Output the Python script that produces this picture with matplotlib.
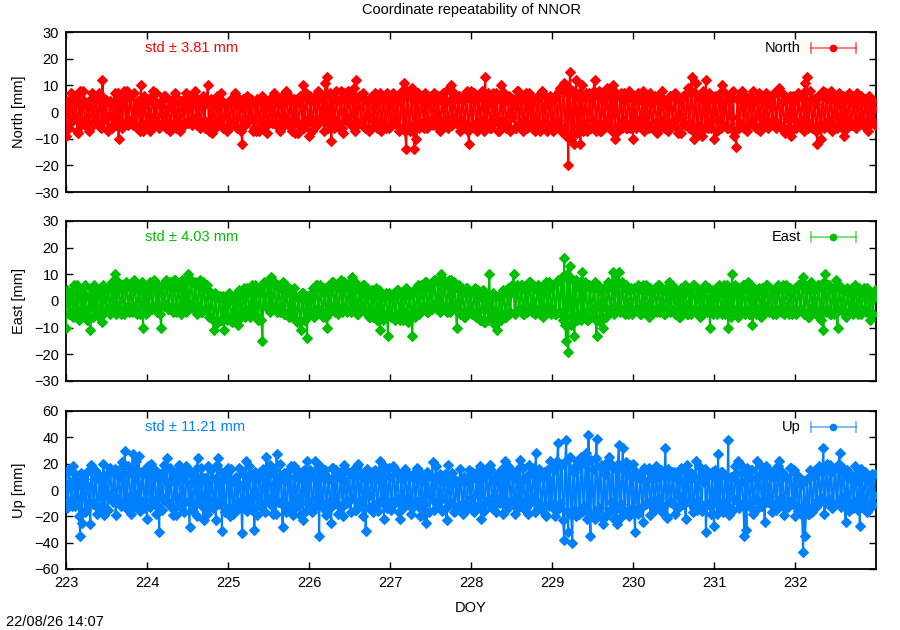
import numpy as np
import matplotlib
matplotlib.use("Agg")
import matplotlib.pyplot as plt

plt.rcParams['font.family'] = ['Liberation Sans', 'DejaVu Sans']

# ---------------- data (mm) ----------------
# "a" samples at DOY 223 + k/40, "b" samples half a step later (k + 0.5)/40
doy_start = 223.0
samples_per_day = 40

north = [
    -9, 3, -4, 5, -2, 6, -8, 8, -3, 4, -5, 2, -6, 7, -1, 5, -4, 6, 12, -3, 4, -6, 3, -2, 7, -5, -10, 2, -4, 5, 8, -3, 6, -5, 1, -6, 4, 10, -7, 3,
    -4, 5, -2, 8, -5, 3, -6, 4, -1, 6, -4, 2, -5, 5, 7, -3, 4, -6, 1, 5, -4, 3, -5, 6, -2, 4, -6, 2, -3, 5, 10, -4, -8, 3, -5, 6, -2, 4, -6, 3,
    3, -5, 4, -3, 6, -6, 2, -12, 4, -4, 5, -2, 3, -6, -7, 4, -3, 6, -5, 2, -4, 5, -1, 6, -5, 3, -6, 4, -2, 7, -4, 5, -3, -8, 4, -5, 6, 10, -3, 5,
    -9, 4, -3, 6, -5, 7, -2, 5, 11, 13, -4, -11, 6, -3, 4, -6, 8, -8, 5, -2, 7, -5, 9, 12, -4, 6, -3, 5, -6, 4, -2, 6, -5, 3, -4, 7, -3, 5, -6, 4,
    3, -5, 6, -2, 4, -6, 8, 11, -14, 6, -7, 9, -14, -10, 7, -4, 5, -6, 3, -3, 6, -5, 4, -2, 5, -4, 7, -3, 4, -5, 10, -2, 5, -4, 6, -3, 4, -6, 8, -12,
    8, -5, 4, -7, 6, -3, 5, 13, -4, 3, -6, 7, -2, 5, -7, 10, -3, 4, -5, 6, -2, 3, -6, 8, -4, 5, -3, 7, -5, 2, -6, 4, -3, 6, -7, 8, -4, 3, -5, 6,
    4, -5, 6, -3, 9, -6, 11, -9, -20, 15, -8, -12, 12, -5, -12, 10, -4, 7, -6, 5, -3, 12, -5, 8, -7, 4, -4, 9, -2, 5, 10, -10, 6, -5, 7, -3, 4, -6, 8, -4,
    -10, 4, -3, 6, -5, 8, -2, 5, -6, 3, -4, 6, -8, 4, -3, 5, -6, 2, -4, 6, -3, 5, -8, 4, -2, 6, -5, 9, -4, 13, -10, 11, -5, 6, -9, 4, 12, -6, 5, -3,
    -10, 5, -3, 7, 10, -5, 4, -6, 6, -2, -9, -13, 5, -4, 8, -6, 3, -5, 6, -3, 4, -6, 7, -2, 5, -4, 3, -5, 6, -3, 7, -4, 9, -6, 4, -8, 5, -3, -9, 6,
    4, -5, 6, -3, 7, 11, 13, -4, 5, -6, 3, -12, 6, -10, 8, -4, 5, -3, 8, -5, 4, -2, 6, -6, -9, 5, -3, 4, -5, 3, -6, 5, -2, 4, -4, 3, -7, 2, -3, 1,
]
north_b = [
    4, -6, 7, -3, 5, -7, 3, -5, 8, -5, 3, -7, 5, -4, 6, -4, 7, -6, -3, 5, -7, 4, -6, 3, -5, 7, 5, -6, 8, -4, -5, 6, -3, 7, -5, 4, -7, -4, 6, -5,
    4, -7, 6, -3, 7, -5, 3, -4, 6, -6, 5, -7, 3, -5, -6, 5, -7, 4, -5, 7, -3, 6, -4, 8, -5, 3, -4, 6, -6, 4, -7, 5, 4, -6, 6, -4, 7, -6, 3, -7,
    -6, 5, -4, 7, -6, 3, -7, 5, -5, 6, -3, 5, -7, 3, 5, -7, 4, -6, 3, -8, 5, -4, 7, -5, 3, -7, 6, -4, 8, -5, 4, -7, 5, 3, -8, 6, -4, -6, 7, -4,
    6, -7, 4, -5, 8, -3, 5, -7, -4, -6, 7, 5, -6, 8, -4, 5, -6, 7, -3, 8, -5, 4, -7, -5, 6, -4, 7, -6, 4, -7, 5, -3, 7, -6, 5, -7, 4, -5, 7, -6,
    -5, 7, -4, 6, -7, 5, -6, -7, 8, -5, 6, -7, 4, 7, -6, 5, -4, 7, -6, 5, -4, 7, -5, 6, -7, 4, -5, 8, -6, 4, -5, 7, -4, 6, -7, 5, -4, 7, -7, 5,
    -5, 7, -4, 6, -6, 8, -7, -5, 7, -6, 5, -4, 7, -7, 6, -5, 7, -6, 4, -7, 5, -6, 8, -5, 6, -7, 4, -6, 7, -5, 5, -7, 4, -6, 7, -5, 6, -7, 4, -5,
    -7, 6, -5, 8, -7, 9, -8, 7, 9, -10, 8, 6, -8, 7, 5, -7, 6, -7, 7, -6, 8, -7, 6, -7, 7, -6, 8, -5, 7, -7, 6, 7, -7, 6, -6, 7, -6, 7, -6, 5,
    6, -6, 7, -5, 4, -7, 6, -5, 7, -6, 5, -7, 6, -5, 8, -6, 4, -7, 6, -5, 7, -6, 5, -8, 6, -5, 7, -6, 8, -7, 7, -7, 5, -7, 8, -6, -5, 7, -6, 5,
    6, -7, 5, -6, -5, 7, -6, 5, -6, 8, -7, 5, -6, 7, -5, 6, -7, 5, -4, 8, -6, 5, -7, 6, -5, 7, -6, 5, -4, 7, -6, 8, -5, 7, -6, 5, -7, 6, 5, -6,
    -6, 7, -5, 6, -7, -5, -6, 8, -6, 5, -7, 6, -5, 7, -6, 7, -5, 6, -7, 5, -6, 7, -4, 6, 5, -6, 7, -5, 6, -4, 7, -4, 6, -5, 5, -4, 6, -4, 4, -5,
]

east = [
    -10, 2, -5, 3, 6, -4, 1, -6, 4, -3, 2, -7, -11, 3, 6, -5, 2, -6, -8, 4, -3, 5, -4, 6, 10, -2, 5, -5, 4, -3, 6, -4, 5, -2, 7, -5, 4, -3, -10, 5,
    6, -3, 5, -2, 7, -4, 3, -10, 6, -1, 7, -3, 5, -4, 8, -2, 6, -5, 4, 8, 10, -1, 7, -3, 6, -2, 8, -4, 5, -3, 4, -6, 2, -11, 1, -8, 2, -7, -11, 0,
    -6, 1, -8, 2, -5, -9, 3, -4, 5, -3, 4, -6, 6, -2, 5, -7, 3, -15, 7, -2, 8, 9, -3, 6, -4, 5, -2, 7, -5, 3, -6, 4, -3, 2, -8, 1, -11, 3, -7, -14,
    2, -5, 5, -3, 6, -4, 4, -6, 5, -10, 6, -2, 7, -4, 5, -3, 8, -2, 6, -4, 7, 9, -3, 6, -5, 4, -2, 6, -4, 3, -6, 4, -3, 5, -7, -11, 2, -5, 3, -13,
    1, -6, 3, -5, 4, -7, 2, -4, 5, -8, 3, -13, 4, -5, 6, -3, 5, -2, 7, -4, 6, -1, 8, -3, 7, 10, -2, 6, -4, 8, 8, -3, 5, -10, 6, -4, 3, -6, 5, -3,
    3, -5, 5, -4, 2, -7, 4, -8, 1, 10, -6, 3, -9, -11, 2, -7, 4, -6, 3, -5, 6, 10, -4, 5, -3, 6, -5, 4, -2, 7, -4, 5, -3, 6, -5, 3, -4, 7, -2, 5,
    -3, 6, -5, 8, -4, 9, 16, -15, -19, 13, -6, -13, 8, -5, 7, 11, -4, 6, -7, 5, -3, 7, -13, 4, -6, -10, 5, -3, 6, -4, 11, -2, 7, 11, -3, 6, -5, 4, -2, 5,
    -4, 5, -3, 4, -5, 6, -2, 4, -6, 3, -3, 5, -4, 6, -2, 4, -5, 3, 7, -3, 5, -4, 2, -6, 4, -2, 5, -5, 3, -3, 6, -4, 2, -6, 4, -3, 5, -2, -10, 4,
    -3, 5, -4, 3, -5, 6, -2, -10, 4, 10, -3, 5, -6, 2, -4, 6, -3, 7, -5, -9, 4, -3, 5, -6, 3, -2, 6, -4, 2, -5, 4, -3, 5, -4, 6, -2, 4, -5, 3, -3,
    5, -4, 6, -3, 9, -5, 4, -6, 7, -2, 5, -4, 6, -7, -11, 10, -3, 6, -5, 4, 8, -10, 5, -3, 4, -6, 3, -4, 5, -2, 4, -5, 3, -3, 5, -4, 2, -7, 3, 1,
]
east_b = [
    4, -5, 3, -6, -3, 6, -7, 3, -5, 6, -7, 2, 5, -6, -3, 4, -6, 2, 6, -4, 5, -5, 7, -2, -5, 7, -3, 6, -5, 7, -2, 6, -4, 8, -3, 4, -5, 7, 3, -5,
    -2, 7, -3, 8, -2, 5, -5, 6, -2, 8, -3, 7, -2, 8, -4, 5, -3, 8, -1, -4, -2, 8, -2, 7, -5, 6, -4, 7, -3, 6, -6, 2, -7, 3, -8, 1, -7, 2, 0, -7,
    3, -7, 0, -8, 1, 4, -6, 2, -6, 5, -4, 3, -5, 6, -6, 3, -7, 6, -2, 7, -4, -2, 7, -3, 6, -4, 5, -5, 6, -4, 3, -6, 5, -7, 1, -8, 3, -7, 0, 2,
    -5, 3, -6, 6, -3, 6, -4, 3, -6, 4, -4, 7, -2, 6, -5, 5, -4, 7, -3, 5, -4, -2, 7, -5, 4, -3, 6, -4, 5, -6, 2, -6, 3, -7, 4, 1, -7, 2, -5, 3,
    -6, 2, -7, 4, -4, 3, -7, 3, -6, 2, -5, 3, -6, 3, -5, 6, -2, 7, -4, 5, -3, 8, -2, 7, -4, -3, 8, -2, 7, -4, -1, 7, -3, 5, -5, 4, -6, 5, -4, 3,
    -5, 3, -6, 4, -7, 1, -8, 3, -7, -4, 1, -8, 2, -7, 2, -5, 3, -6, 5, -4, 3, -5, 6, -3, 6, -5, 4, -4, 7, -2, 6, -5, 4, -3, 5, -6, 6, -2, 7, -5,
    6, -5, 7, -4, 8, -7, -9, 10, 9, -9, 8, 7, -7, 5, -7, -4, 7, -7, 6, -6, 5, -7, 6, -8, 4, 5, -6, 7, -4, 5, -5, 8, -3, -4, 7, -4, 6, -5, 4, -5,
    5, -3, 6, -5, 4, -4, 6, -4, 5, -5, 4, -3, 6, -4, 4, -5, 5, -3, -4, 6, -5, 3, -6, 5, -3, 6, -5, 3, -5, 6, -3, 5, -4, 3, -5, 6, -4, 5, 2, -5,
    3, -5, 6, -3, 4, -5, 6, 3, -6, -4, 6, -3, 5, -4, 6, -5, 4, -5, 6, 2, -5, 4, -3, 5, -5, 6, -3, 5, -4, 3, -5, 6, -3, 4, -5, 6, -3, 5, -5, 4,
    -5, 6, -3, 7, -5, 4, -6, 6, -3, 4, -5, 6, -4, 5, 7, -4, 6, -5, 4, -5, -4, 6, -3, 4, -5, 5, -4, 3, -5, 6, -3, 5, -5, 4, -3, 5, -4, 3, -5, 4,
]

up = [
    13, -8, 6, -12, 13, -5, 4, -35, -25, 8, -15, 3, -26, 15, -10, 9, -14, 11, -6, -19, 12, -4, 14, -9, 16, -7, 10, -12, 18, 30, -5, 13, -18, 27, -3, 15, 26, -8, 12, -14,
    -22, 10, 20, -8, 14, -12, -32, 9, -6, 15, 24, -10, 7, -19, 12, -5, 19, -14, 8, -9, 13, -28, 6, -11, 16, 24, -4, 10, -23, 5, 18, -13, 9, -7, -23, 24, -10, -31, 8, -15,
    17, -20, 6, -14, 10, -9, 4, -33, -12, 22, -6, 12, -15, -30, 8, -5, 14, -11, 9, 25, -7, 13, -18, 5, 27, -9, 11, -28, 7, -12, 15, 18, -19, 10, -6, 14, -10, -23, 9, 22,
    -8, 12, -13, 22, -6, -35, 10, -14, 15, -9, 8, -25, 17, -5, 11, -12, 14, -20, 7, -10, 13, -6, 16, -15, 20, -8, 10, -13, -31, 9, -4, 14, -11, 8, -16, 22, -7, -22, 12, -9,
    10, -12, 17, -7, 13, -22, 8, -10, 14, -5, 11, -14, 9, -8, 15, -20, 6, -11, -25, 12, -4, 21, -9, 10, -13, 7, -6, 12, -23, 5, -10, 9, -16, 4, -12, 8, -18, 6, -9, 15,
    -6, 10, -12, 14, -4, -22, 9, -10, 12, -7, 15, -13, 6, -9, 11, -5, -18, 22, -8, 13, -11, 9, -6, 16, 23, -10, 8, -14, -18, 12, -5, 17, 28, -9, 11, -13, 14, -20, 8, 22,
    -12, 15, -16, 36, -10, 20, -38, 38, -32, 25, -40, 14, -20, 18, -15, 22, -12, 28, 42, -35, 16, -22, 39, -14, 19, -26, 12, -18, 25, -9, 17, -15, -26, 34, -11, 32, -16, 13, -20, 10,
    20, -32, 9, -14, 12, -24, 7, -10, 17, -8, 13, -15, 10, -6, 15, -12, 32, -21, 11, -9, 14, -13, 8, -5, 16, -11, -22, 9, -7, 12, -14, 22, -8, 10, -16, 6, -32, 11, -12, 14,
    -27, 8, 27, -12, 14, -9, 11, 38, -14, 10, -7, 13, 22, -11, 6, -35, -30, 9, -13, 15, -6, 22, -10, 12, -8, -24, 14, -5, 10, -12, 16, -9, 22, -6, 11, -14, 9, -8, 17, -11,
    -20, 6, -14, 4, -47, -35, 8, -18, 11, -12, 15, -8, 18, -6, 32, -10, 20, -7, 14, -12, 17, -9, 28, -5, 13, -24, 9, -13, 11, -8, 7, -15, -27, 10, -6, 12, -11, 5, 12, -4,
]
up_b = [
    -14, 16, -8, 18, -12, 7, -20, 13, 10, -17, 14, -9, 19, -11, 15, -18, 8, -13, 20, 9, -15, 17, -7, 14, -19, 12, -9, 21, -10, -14, 18, -8, 16, -12, 22, -9, -16, 14, -11, 17,
    18, -13, -7, 16, -18, 9, 12, -15, 19, -8, -11, 17, -14, 7, -19, 15, -10, 13, -17, 18, -8, 14, -16, 11, -20, -10, 17, -13, 9, -18, -12, 15, -14, 8, 19, -11, 14, 12, -17, 10,
    -13, 16, -18, 8, -15, 17, -9, 13, 11, -16, 18, -12, 9, 14, -19, 10, -13, 16, -17, -8, 19, -12, 15, -18, -9, 20, -11, 13, -17, 9, -15, -10, 18, -13, 12, -19, 8, 15, -16, -11,
    15, -17, 9, -12, 16, 18, -10, 13, -19, 8, -14, 17, -11, 15, -18, 9, -13, 19, -8, 14, -17, 11, -15, 18, -9, 13, -20, 10, 16, -14, 8, -17, 15, -11, 13, -9, 19, 12, -14, 17,
    -15, 18, -9, 13, -17, 8, -14, 16, -11, 10, -18, 12, -9, 17, -13, 11, -19, 8, 14, -17, 10, -15, 18, -8, 12, -16, 9, -14, 19, -10, 13, -17, 7, -12, 16, -11, 10, -15, 9, -13,
    14, -17, 8, -13, 18, 11, -16, 15, -9, 19, -14, 8, -17, 12, -10, 16, 9, -15, 18, -11, 14, -18, 10, -13, -8, 17, -15, 11, 19, -9, 13, -17, -11, 16, -14, 9, -18, 15, -12, -10,
    18, -20, 22, -14, 19, -23, 21, -16, 24, -19, 17, -15, 22, -18, 25, -16, 20, -22, -17, 23, -19, 24, -15, 18, -21, 16, -20, 22, -15, 19, -22, 17, 20, -21, 16, -18, 21, -17, 19, -14,
    -16, 14, -18, 9, -13, 17, -11, 15, -19, 8, -14, 18, -10, 13, -17, 11, -20, 16, -9, 14, -18, 10, -13, 17, -11, 15, 19, -9, 13, -17, 8, -15, 18, -12, 14, 16, -10, 12, -18, -11,
    15, -18, -9, 14, -17, 11, -13, -19, 10, -15, 18, -8, -14, 19, -11, 13, 17, -10, 15, -18, 9, -14, 19, -12, 16, 18, -9, 13, -17, 10, -15, 18, -11, 14, -19, 9, -13, 17, -10, 15,
    12, -16, 9, -19, 7, -14, -18, 15, -17, 11, -13, 16, -9, 14, -18, 17, -11, 19, -14, 16, -10, 20, -13, 17, -9, 15, -16, 11, -14, 18, -10, 13, 16, -12, 14, -17, 9, -13, -11, 12,
]

components = ["North", "East", "Up"]
stds = [3.81, 4.03, 11.21]
colors = ["#ff0000", "#00c000", "#0080ff"]
ylims = [(-30, 30), (-30, 30), (-60, 60)]
ysteps = [10, 10, 20]
xtick_days = list(range(223, 233))

series_a = [north, east, up]
series_b = [north_b, east_b, up_b]

k = np.arange(len(north))
doy_a = doy_start + k / samples_per_day
doy_b = doy_start + (k + 0.5) / samples_per_day

# ---------------- figure ----------------
fig = plt.figure(figsize=(9, 6.3), dpi=100)
left, width = 66 / 900, 810 / 900
panel_px = [(32, 192), (221, 381), (411, 569)]

axes = []
for (top, bot) in panel_px:
    ax = fig.add_axes([left, 1 - bot / 630, width, (bot - top) / 630])
    axes.append(ax)

for i, ax in enumerate(axes):
    t = np.concatenate([doy_a, doy_b])
    v = np.concatenate([np.asarray(series_a[i], float), np.asarray(series_b[i], float)])
    order = np.argsort(t, kind='stable')
    t, v = t[order], v[order]
    c = colors[i]
    ax.plot(t, v, '-', color=c, lw=1.5, marker='D', ms=4.6,
            mec=c, mfc=c, mew=0.8, zorder=3)
    ax.set_xlim(223, 233)
    ax.set_ylim(*ylims[i])
    lo, hi = ylims[i]
    ax.set_yticks(np.arange(lo, hi + 1, ysteps[i]))
    ax.set_xticks(xtick_days)
    ax.tick_params(direction='in', length=5, width=1, top=True, right=True,
                   labelsize=10.5, colors='black', pad=5)
    if i < 2:
        ax.set_xticklabels([])
    ax.set_ylabel(f"{components[i]} [mm]", fontsize=10.5, labelpad=6)
    for s in ax.spines.values():
        s.set_linewidth(1.3)
    # std annotation
    ax.text(0.0975, 0.90, f"std \u00b1 {stds[i]:.2f} mm", color=c,
            fontsize=10.5, transform=ax.transAxes, ha='left', va='center')
    # gnuplot-like key
    ax.text(0.907, 0.90, components[i], color='black', fontsize=10.5,
            transform=ax.transAxes, ha='right', va='center')
    ax.plot([0.9196, 0.9753], [0.90, 0.90], color=c, lw=1.2, alpha=0.6,
            transform=ax.transAxes, zorder=5, clip_on=False)
    for xe in (0.9196, 0.9753):
        ax.plot([xe, xe], [0.87, 0.93], color=c, lw=1.2, alpha=0.6,
                transform=ax.transAxes, zorder=5, clip_on=False)
    ax.plot([0.9475], [0.90], 'o', color=c, ms=4.5,
            transform=ax.transAxes, zorder=6, clip_on=False)

axes[2].set_xlabel("DOY", fontsize=10.5, labelpad=8)

fig.text(471 / 900, 1 - 10 / 630, "Coordinate repeatability of NNOR",
         ha='center', va='center', fontsize=10.5)
fig.text(6 / 900, 1 - 622 / 630, "22/08/26 14:07", ha='left', va='center',
         fontsize=10.5)

fig.savefig("out.png", dpi=100)
